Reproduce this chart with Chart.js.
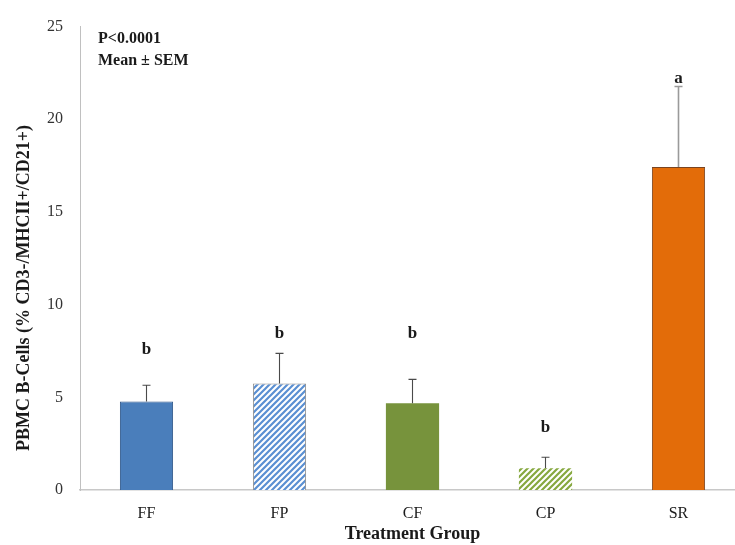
<!DOCTYPE html>
<html>
<head>
<meta charset="utf-8">
<script src="https://cdn.jsdelivr.net/npm/chart.js@4.4.1/dist/chart.umd.min.js"></script>
<style>
  html, body { margin: 0; padding: 0; background: #fff; overflow: hidden; }
  #wrap { width: 735px; height: 545px; overflow: hidden; }
  canvas { display: block; }
</style>
</head>
<body>
<div id="wrap"><canvas id="c" width="750" height="545"></canvas></div>
<script>
// PBMC B-cell percentages by treatment group (mean ± SEM)
const groups  = ['FF', 'FP', 'CF', 'CP', 'SR'];
const means   = [4.78, 5.75, 4.68, 1.18, 17.42];
const sem     = [0.87, 1.62, 1.29, 0.59, 4.35];
const letters = ['b', 'b', 'b', 'b', 'a'];
const letterY = [7.55, 8.45, 8.45, 3.35, 22.2];
const yTicks  = [0, 5, 10, 15, 20, 25];

const SERIF = "'Liberation Serif', 'Times New Roman', serif";
const Y_TITLE = 'PBMC B-Cells (% CD3-/MHCII+/CD21+)';

// diagonal-stripe fill for the "P" groups
function stripes(color) {
  const s = 6;
  const cv = document.createElement('canvas');
  cv.width = cv.height = s;
  const g = cv.getContext('2d');
  g.fillStyle = '#ffffff';
  g.fillRect(0, 0, s, s);
  g.strokeStyle = color;
  g.lineWidth = 2.2;
  g.beginPath();
  g.moveTo(0, s); g.lineTo(s, 0);
  g.moveTo(-s / 2, s / 2); g.lineTo(s / 2, -s / 2);
  g.moveTo(s / 2, s * 1.5); g.lineTo(s * 1.5, s / 2);
  g.stroke();
  return g.createPattern(cv, 'repeat');
}

const fills   = ['#4a7ebb', stripes('#5a8fd2'), '#77933c', stripes('#86a83f'), '#e36c09'];
const borders = ['#2f5689', '#8c8c8c', '#77933c', '#ffffff', '#7a4420'];
const bw      = [1, 1, 0, 0, 1];

// upper SEM whiskers, significance letters and text notes
const annotations = {
  id: 'annotations',
  afterDatasetsDraw(chart) {
    const { ctx, scales: { x, y } } = chart;
    ctx.save();
    groups.forEach((g, i) => {
      const px = x.getPixelForValue(i);
      const yTop = y.getPixelForValue(means[i]);
      const yErr = y.getPixelForValue(means[i] + sem[i]);
      const sr = i === 4;
      ctx.strokeStyle = sr ? '#9a9a9a' : '#4a4a4a';
      ctx.lineWidth = sr ? 1.6 : 1.1;
      ctx.beginPath();
      ctx.moveTo(px, yTop);
      ctx.lineTo(px, yErr);
      ctx.moveTo(px - 4, yErr);
      ctx.lineTo(px + 4, yErr);
      ctx.stroke();

      ctx.fillStyle = '#1a1a1a';
      ctx.font = 'bold 17px ' + SERIF;
      ctx.textAlign = 'center';
      ctx.textBaseline = 'middle';
      ctx.fillText(letters[i], px, y.getPixelForValue(letterY[i]));
    });
    ctx.fillStyle = '#1a1a1a';
    ctx.font = 'bold 16px ' + SERIF;
    ctx.textAlign = 'left';
    ctx.textBaseline = 'middle';
    ctx.fillText('P<0.0001', 98, 39);
    ctx.fillText('Mean \u00b1 SEM', 98, 61);

    // vertical axis title
    ctx.translate(24, 288);
    ctx.rotate(-Math.PI / 2);
    ctx.textAlign = 'center';
    ctx.font = 'bold 18px ' + SERIF;
    ctx.fillText(Y_TITLE, 0, 0);
    ctx.restore();
  }
};

new Chart(document.getElementById('c'), {
  type: 'bar',
  data: {
    labels: groups,
    datasets: [{
      data: means,
      backgroundColor: fills,
      borderColor: borders,
      borderWidth: bw,
      borderSkipped: 'bottom',
      categoryPercentage: 1,
      barPercentage: 0.4
    }]
  },
  options: {
    responsive: false,
    animation: false,
    layout: { padding: { top: 25, right: 5, left: 0, bottom: 0 } },
    plugins: { legend: { display: false }, tooltip: { enabled: false } },
    scales: {
      x: {
        grid: { display: false, drawTicks: false },
        border: { display: true, color: '#c8c8c8', width: 1.5 },
        ticks: { color: '#1a1a1a', font: { family: SERIF, size: 16 }, padding: 14 },
        title: {
          display: true, text: 'Treatment Group', color: '#1a1a1a',
          font: { family: SERIF, size: 18, weight: 'bold' },
          padding: { top: 0, bottom: 0 }
        },
        afterFit(s) { s.height = 55; }
      },
      y: {
        min: 0, max: 25,
        grid: { display: false, drawTicks: false },
        border: { display: true, color: '#c0c0c0', width: 1 },
        afterBuildTicks(s) { s.ticks = yTicks.map(v => ({ value: v })); },
        ticks: { color: '#333333', font: { family: SERIF, size: 16 }, padding: 17 },
        title: { display: false },
        afterFit(s) { s.width = 80; }
      }
    }
  },
  plugins: [annotations]
});
</script>
</body>
</html>
